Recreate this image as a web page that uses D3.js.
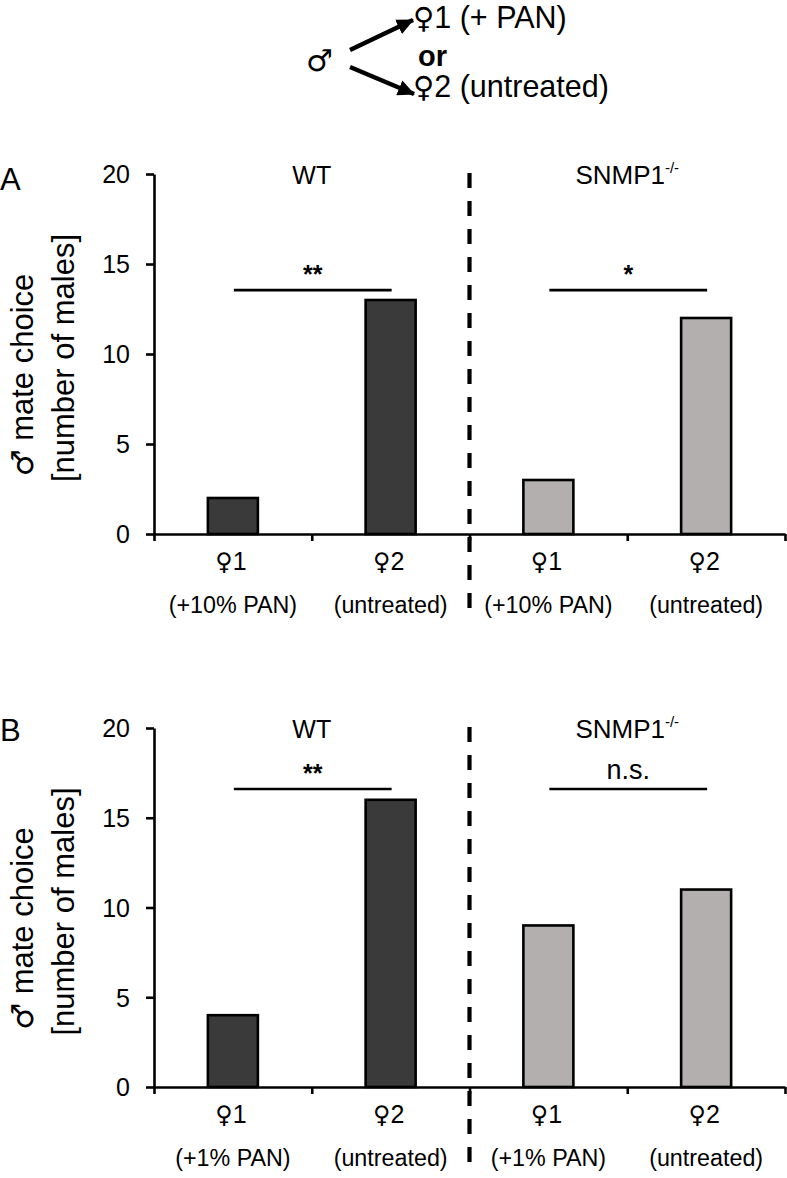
<!DOCTYPE html>
<html>
<head>
<meta charset="utf-8">
<script src="https://cdn.jsdelivr.net/npm/d3@7"></script>
<style>
  html, body { margin: 0; padding: 0; background: #fff; }
  svg text { font-family: "Liberation Sans", Arial, sans-serif; fill: #000; }
  .sym { font-family: "DejaVu Sans", sans-serif; }
</style>
</head>
<body>
<svg id="chart" width="787" height="1178"></svg>
<script>
// ---- data ----
const categories = ["1", "2"];          // preceded by ♀ symbol
const groups = ["WT", "SNMP1"];
const valuesA_WT = [2, 13];
const valuesA_SNMP = [3, 12];
const valuesB_WT = [4, 16];
const valuesB_SNMP = [9, 11];
const subLabelsA = ["(+10% PAN)", "(untreated)"];
const subLabelsB = ["(+1% PAN)", "(untreated)"];
const yTicks = [0, 5, 10, 15, 20];
const sigLabelsA = ["**", "*"];
const sigLabelsB = ["**", "n.s."];
const sigLevelsA = [13.55, 13.55];
const sigLevelsB = [16.6, 16.6];
const groupColors = ["#3b3a3a", "#b2afae"];

const svg = d3.select("#chart");

// ---- top schematic ----
const defs = svg.append("defs");
defs.append("marker")
  .attr("id", "ah").attr("markerUnits", "userSpaceOnUse")
  .attr("markerWidth", 18).attr("markerHeight", 16)
  .attr("refX", 16).attr("refY", 8).attr("orient", "auto")
  .append("path").attr("d", "M0,0 L17,8 L0,16 Z").attr("fill", "#000");

const schem = svg.append("g");
schem.append("text").attr("class", "sym").attr("x", 306).attr("y", 71).attr("font-size", 30).text("♂");
schem.append("line").attr("x1", 350).attr("y1", 50).attr("x2", 413).attr("y2", 20)
  .attr("stroke", "#000").attr("stroke-width", 4.5).attr("marker-end", "url(#ah)");
schem.append("line").attr("x1", 350).attr("y1", 67).attr("x2", 414).attr("y2", 94)
  .attr("stroke", "#000").attr("stroke-width", 4.5).attr("marker-end", "url(#ah)");
function femaleText(sel, num, rest, size, symSize) {
  sel.append("tspan").attr("class", "sym").attr("font-size", symSize).text("♀");
  sel.append("tspan").attr("font-size", size).text(num + rest);
}
femaleText(schem.append("text").attr("x", 413).attr("y", 28), "1", " (+ PAN)", 30.5, 29);
schem.append("text").attr("x", 418).attr("y", 66).attr("font-size", 29).attr("font-weight", "bold").text("or");
femaleText(schem.append("text").attr("x", 413).attr("y", 97), "2", " (untreated)", 30.5, 29);

// ---- panel drawing ----
function drawPanel(cfg) {
  const g = svg.append("g");
  const x = d3.scaleLinear().domain([0, 4]).range([154, 785]);
  const y = d3.scaleLinear().domain([0, 20]).range([cfg.y0, cfg.y20]);
  const step = x(1) - x(0);
  const bw = step * 0.317;
  const series = [cfg.wt, cfg.snmp];

  // bars
  series.forEach((vals, gi) => {
    g.selectAll(null).data(vals).enter().append("rect")
      .attr("x", (d, i) => x(gi * 2 + i + 0.5) - bw / 2)
      .attr("y", d => y(d))
      .attr("width", bw)
      .attr("height", d => y(0) - y(d))
      .attr("fill", groupColors[gi])
      .attr("stroke", "#000").attr("stroke-width", 2.6);
  });

  // y axis
  const ya = g.append("g").attr("transform", `translate(${x(0)},0)`)
    .call(d3.axisLeft(y).tickValues(yTicks).tickSize(8).tickSizeOuter(0).tickPadding(16));
  ya.select(".domain").attr("stroke-width", 2.6);
  ya.selectAll(".tick line").attr("stroke-width", 2.6);
  ya.selectAll(".tick text").attr("font-size", 25).attr("font-family", "Liberation Sans, Arial, sans-serif").attr("dy", "0.35em");

  // x axis
  const xa = g.append("g").attr("transform", `translate(0,${y(0)})`)
    .call(d3.axisBottom(x).tickValues([0, 1, 2, 3, 4]).tickSize(7).tickSizeOuter(0).tickFormat(""));
  xa.select(".domain").attr("stroke-width", 2.6);
  xa.selectAll(".tick line").attr("stroke-width", 2.6);

  // dashed divider
  g.append("line").attr("x1", x(2)).attr("x2", x(2))
    .attr("y1", cfg.dashTop).attr("y2", cfg.dashBottom)
    .attr("stroke", "#000").attr("stroke-width", 4.2).attr("stroke-dasharray", "15,13");

  // category labels
  for (let gi = 0; gi < 2; gi++) {
    categories.forEach((c, i) => {
      const t = g.append("text").attr("x", x(gi * 2 + i + 0.5) - 2).attr("y", y(0) + 36)
        .attr("text-anchor", "middle");
      femaleText(t, c, "", 25, 24);
      g.append("text").attr("x", x(gi * 2 + i + 0.5)).attr("y", y(0) + 79)
        .attr("text-anchor", "middle").attr("font-size", 23.3).text(cfg.sub[i]);
    });
  }

  // group titles
  g.append("text").attr("x", x(1)).attr("y", cfg.y20 + 10).attr("text-anchor", "middle")
    .attr("font-size", 25).text(groups[0]);
  const t2 = g.append("text").attr("x", x(3)).attr("y", cfg.y20 + 10).attr("text-anchor", "middle")
    .attr("font-size", 26);
  t2.append("tspan").text(groups[1]);
  t2.append("tspan").attr("font-size", 15).attr("dy", -11).text("-/-");

  // significance
  for (let gi = 0; gi < 2; gi++) {
    const ly = y(cfg.sigLevels[gi]);
    g.append("line").attr("x1", x(gi * 2 + 0.5) + 1).attr("x2", x(gi * 2 + 1.5) + 1)
      .attr("y1", ly).attr("y2", ly).attr("stroke", "#000").attr("stroke-width", 2.6);
    const lab = cfg.sigLabels[gi];
    const isStar = lab.indexOf("*") >= 0;
    g.append("text").attr("x", x(gi * 2 + 1) + 1).attr("y", isStar ? ly - 7 : ly - 10)
      .attr("text-anchor", "middle").attr("font-size", isStar ? 25 : 27)
      .attr("font-weight", isStar ? "bold" : "normal").text(lab);
  }

  // panel letter
  g.append("text").attr("x", 0).attr("y", cfg.letterY).attr("font-size", 31).text(cfg.letter);

  // y axis label
  const cy = (cfg.y0 + cfg.y20) / 2;
  const l1 = g.append("text").attr("transform", `translate(33,${cy + 21}) rotate(-90)`)
    .attr("text-anchor", "middle").attr("font-size", 31);
  l1.append("tspan").attr("class", "sym").attr("font-size", 30).text("♂");
  l1.append("tspan").text(" mate choice");
  g.append("text").attr("transform", `translate(74,${cy + 4}) rotate(-90)`)
    .attr("text-anchor", "middle").attr("font-size", 31).text("[number of males]");
}

drawPanel({ letter: "A", letterY: 190, y0: 534, y20: 174, wt: valuesA_WT, snmp: valuesA_SNMP,
  sub: subLabelsA, sigLabels: sigLabelsA, sigLevels: sigLevelsA, dashTop: 173, dashBottom: 620 });
drawPanel({ letter: "B", letterY: 741, y0: 1087, y20: 728, wt: valuesB_WT, snmp: valuesB_SNMP,
  sub: subLabelsB, sigLabels: sigLabelsB, sigLevels: sigLevelsB, dashTop: 727, dashBottom: 1174 });
</script>
</body>
</html>
